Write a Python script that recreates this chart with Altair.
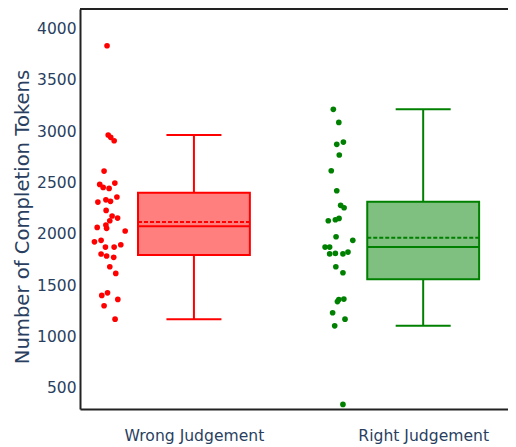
import altair as alt
import pandas as pd
import numpy as np

categories = ["Wrong Judgement", "Right Judgement"]

wrong_tokens = [3830, 2961, 2938, 2905, 2610, 2480, 2451, 2441, 2493, 2308, 2330, 2315,
                2357, 2227, 2172, 2152, 2126, 2061, 2084, 2052, 2026, 1921, 1935, 1870,
                1870, 1892, 1802, 1783, 1770, 1678, 1613, 1399, 1424, 1360, 1298, 1168]
wrong_jitter = [-0.012, -0.007, 0.004, 0.019, -0.025, -0.044, -0.029, -0.003, 0.022, -0.052,
                -0.017, 0.003, 0.031, -0.016, 0.010, 0.034, 0.0, -0.055, -0.017, -0.014,
                0.067, -0.067, -0.038, -0.019, 0.019, 0.048, -0.038, -0.014, 0.017, 0.0,
                0.026, -0.035, -0.010, 0.035, -0.025, 0.023]

right_tokens = [3211, 3084, 2870, 2892, 2766, 2613, 2418, 2276, 2253, 2126, 2136, 2149,
                1970, 1935, 1870, 1870, 1804, 1808, 1804, 1821, 1678, 1620, 1339, 1359,
                1363, 1230, 1168, 1103, 338]
right_jitter = [-0.025, -0.001, -0.010, 0.019, 0.001, -0.034, -0.010, 0.007, 0.022, -0.047,
                -0.016, 0.0, -0.013, 0.060, -0.061, -0.041, -0.041, -0.016, 0.017, 0.039,
                -0.014, 0.017, -0.007, -0.001, 0.021, -0.028, 0.026, -0.019, 0.017]

line_colors = ["#ff0000", "#008000"]
y_ticks = [500, 1000, 1500, 2000, 2500, 3000, 3500, 4000]

POINT_SHIFT = -0.367
BOX_HALF = 0.244
CAP_HALF = 0.12
TEXT = "#2a3f5f"
FONT = "DejaVu Sans"

rows, stats = [], []
for i, (cat, vals, jit) in enumerate(zip(categories, [wrong_tokens, right_tokens],
                                         [wrong_jitter, right_jitter])):
    for v, j in zip(vals, jit):
        rows.append({"group": cat, "pos": i + POINT_SHIFT + j, "tokens": v})
    a = np.array(vals, dtype=float)
    q1, med, q3 = np.percentile(a, [25, 50, 75], method="hazen")
    iqr = q3 - q1
    lo = a[a >= q1 - 1.5 * iqr].min()
    hi = a[a <= q3 + 1.5 * iqr].max()
    stats.append({"group": cat, "idx": i, "q1": q1, "q3": q3, "median": med,
                  "mean": a.mean(), "lo": lo, "hi": hi})

points_df = pd.DataFrame(rows)
stats_df = pd.DataFrame(stats)

xscale = alt.Scale(domain=[-0.497, 1.370], nice=False, zero=False)
yscale = alt.Scale(domain=[293, 4188], nice=False, zero=False)
color = alt.Color("group:N", scale=alt.Scale(domain=categories, range=line_colors), legend=None)

x_axis = alt.Axis(values=[0, 1], grid=False, ticks=False, title=None,
                  labelExpr="datum.value == 0 ? 'Wrong Judgement' : 'Right Judgement'",
                  labelFont=FONT, labelFontSize=15.6, labelColor=TEXT, labelPadding=19,
                  domainColor="#222222", domainWidth=2)
y_axis = alt.Axis(values=y_ticks, grid=False, ticks=False, title="Number of Completion Tokens",
                  format="d",
                  labelFont=FONT, labelFontSize=15.5, labelColor=TEXT, labelPadding=4,
                  titleFont=FONT, titleFontSize=19.6, titleColor=TEXT, titleFontWeight="normal",
                  titleX=-51.7, titleY=207.5, titleBaseline="alphabetic", titleAngle=270,
                  domainColor="#222222", domainWidth=2)


def X(field):
    return alt.X(field, scale=xscale, axis=x_axis, title=None)


def Y(field):
    return alt.Y(field, scale=yscale, axis=y_axis, title="Number of Completion Tokens")


points = alt.Chart(points_df).mark_circle(size=32, opacity=1).encode(
    x=X("pos:Q"), y=Y("tokens:Q"), color=color,
)

base = alt.Chart(stats_df).transform_calculate(
    xl=f"datum.idx - {BOX_HALF}", xr=f"datum.idx + {BOX_HALF}",
    cl=f"datum.idx - {CAP_HALF}", cr=f"datum.idx + {CAP_HALF}",
)

box = base.mark_rect(fillOpacity=0.5, strokeWidth=2).encode(
    x=X("xl:Q"), x2="xr:Q", y=Y("q1:Q"), y2="q3:Q", fill=color, stroke=color,
)
median = base.mark_rule(strokeWidth=2).encode(
    x=X("xl:Q"), x2="xr:Q", y=Y("median:Q"), color=color,
)
mean = base.mark_rule(strokeWidth=2, strokeDash=[4, 2]).encode(
    x=X("xl:Q"), x2="xr:Q", y=Y("mean:Q"), color=color,
)
whisk_up = base.mark_rule(strokeWidth=2).encode(
    x=X("idx:Q"), y=Y("q3:Q"), y2="hi:Q", color=color,
)
whisk_lo = base.mark_rule(strokeWidth=2).encode(
    x=X("idx:Q"), y=Y("lo:Q"), y2="q1:Q", color=color,
)
cap_up = base.mark_rule(strokeWidth=2).encode(
    x=X("cl:Q"), x2="cr:Q", y=Y("hi:Q"), color=color,
)
cap_lo = base.mark_rule(strokeWidth=2).encode(
    x=X("cl:Q"), x2="cr:Q", y=Y("lo:Q"), color=color,
)
top_border = alt.Chart(pd.DataFrame({"k": [0]})).mark_rule(
    color="#222222", strokeWidth=2
).encode(x=alt.value(0), x2=alt.value(428), y=alt.value(0))

chart = alt.layer(
    box, median, mean, whisk_up, whisk_lo, cap_up, cap_lo, points, top_border
).properties(
    width=428, height=400,
    autosize=alt.AutoSizeParams(type="none"),
    padding={"left": 72, "top": 1, "right": 0, "bottom": 36},
).configure_view(stroke=None)

chart.save("out.html", embed_options={"renderer": "svg", "actions": False})
